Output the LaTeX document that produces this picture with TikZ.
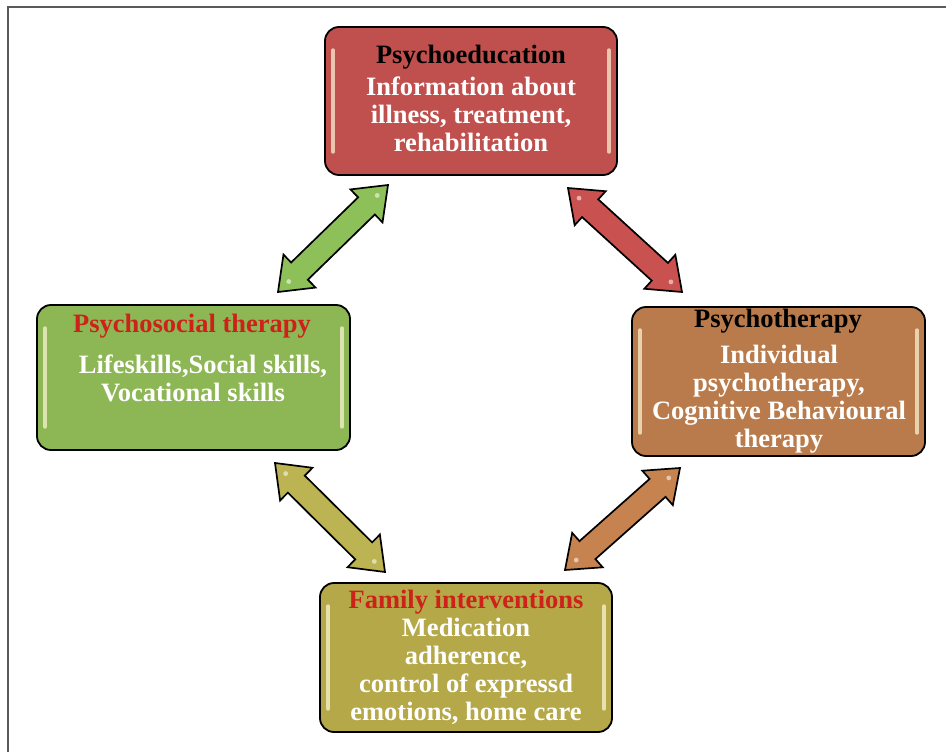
\documentclass[tikz,border=0pt]{standalone}
\usepackage{fontspec}
\setmainfont{Liberation Serif}
\usetikzlibrary{calc}
\definecolor{boxred}{HTML}{C0504D}
\definecolor{boxgreen}{HTML}{8DB654}
\definecolor{boxbrown}{HTML}{B97B4B}
\definecolor{boxolive}{HTML}{B4A848}
\definecolor{arrred}{HTML}{C9514F}
\definecolor{arrgreen}{HTML}{8EC05A}
\definecolor{arrbrown}{HTML}{C6834F}
\definecolor{arrolive}{HTML}{BCB452}
\definecolor{titlered}{HTML}{CC2219}
\definecolor{framegray}{HTML}{5A5A5A}
\definecolor{glosscol}{HTML}{FFF8D8}
\tikzset{
  box/.style={draw=black, line width=1.8pt, rounded corners=14pt, inner sep=0pt},
  gloss/.style={draw=glosscol, draw opacity=0.7, line width=3.6pt, line cap=round},
  txt/.style={inner sep=0pt, align=center, font=\fontsize{26.5}{28}\selectfont\bfseries},
  arrowsty/.style={draw=black, line width=1.7pt, line join=miter},
}
\newcommand\dblarrow[3]{%
  \coordinate (BA) at ($(#1)!30pt!(#2)$);
  \coordinate (BB) at ($(#2)!30pt!(#1)$);
  \draw[arrowsty, fill=#3] (#1) -- ($(BA)!23pt!90:(#2)$) -- ($(BA)!12pt!90:(#2)$)
    -- ($(BB)!12pt!-90:(#1)$) -- ($(BB)!23pt!-90:(#1)$) -- (#2)
    -- ($(BB)!23pt!90:(#1)$) -- ($(BB)!12pt!90:(#1)$)
    -- ($(BA)!12pt!-90:(#2)$) -- ($(BA)!23pt!-90:(#2)$) -- cycle;
  \fill[white, opacity=0.55] ($(#1)!15pt!(#2)$) circle (2.4pt);
  \fill[white, opacity=0.55] ($(#2)!15pt!(#1)$) circle (2.4pt);
}
\begin{document}
\begin{tikzpicture}[x=1pt,y=-1pt]
\useasboundingbox (0,0) rectangle (946,752);
\fill[white] (0,0) rectangle (946,752);
\coordinate (fbl) at (8,752);
\coordinate (ftl) at (8,7);
\coordinate (ftr) at (946,7);
\draw[framegray, line width=1.6pt] (fbl) -- (ftl) -- (ftr);

% boxes
\node[box, fill=boxred, minimum width=292pt, minimum height=148pt] (edu) at (471,101) {};
\node[box, fill=boxgreen, minimum width=313pt, minimum height=145pt] (soc) at (193.5,377.5) {};
\node[box, fill=boxbrown, minimum width=293pt, minimum height=149pt] (ther) at (778.5,381.5) {};
\node[box, fill=boxolive, minimum width=292pt, minimum height=149pt] (fam) at (466,657.5) {};

\foreach \b in {edu,soc,ther,fam}{
  \draw[gloss] ($(\b.north west)+(9,24)$) -- ($(\b.south west)+(9,-24)$);
  \draw[gloss] ($(\b.north east)+(-9,24)$) -- ($(\b.south east)+(-9,-24)$);
}

% texts
\node[txt, text=black] (eduT) at (471,57) {Psychoeducation};
\node[txt, text=white] (eduB) at (471,114) {Information about\\illness, treatment,\\rehabilitation};

\node[txt, text=titlered] (socT) at (192,326) {Psychosocial therapy};
\node[txt, text=white] (socB1) at (203,366) {Lifeskills,Social skills,};
\node[txt, text=white] (socB2) at (193,393) {Vocational skills};

\node[txt, text=black] (therT) at (778,321) {Psychotherapy};
\node[txt, text=white] (therB) at (779,399.5) {Individual\\psychotherapy,\\Cognitive Behavioural\\therapy};

\node[txt, text=titlered] (famT) at (466,602) {Family interventions};
\node[txt, text=white] (famB) at (466,671) {Medication\\adherence,\\control of expressd\\emotions, home care};

% arrows
\coordinate (g1) at (278,292);
\coordinate (g2) at (388,185);
\coordinate (r1) at (568,188);
\coordinate (r2) at (682,292);
\coordinate (o1) at (275,463);
\coordinate (o2) at (385,572);
\coordinate (b1) at (680,468);
\coordinate (b2) at (565,570);
\dblarrow{g1}{g2}{arrgreen}
\dblarrow{r1}{r2}{arrred}
\dblarrow{o1}{o2}{arrolive}
\dblarrow{b1}{b2}{arrbrown}
\end{tikzpicture}
\end{document}
